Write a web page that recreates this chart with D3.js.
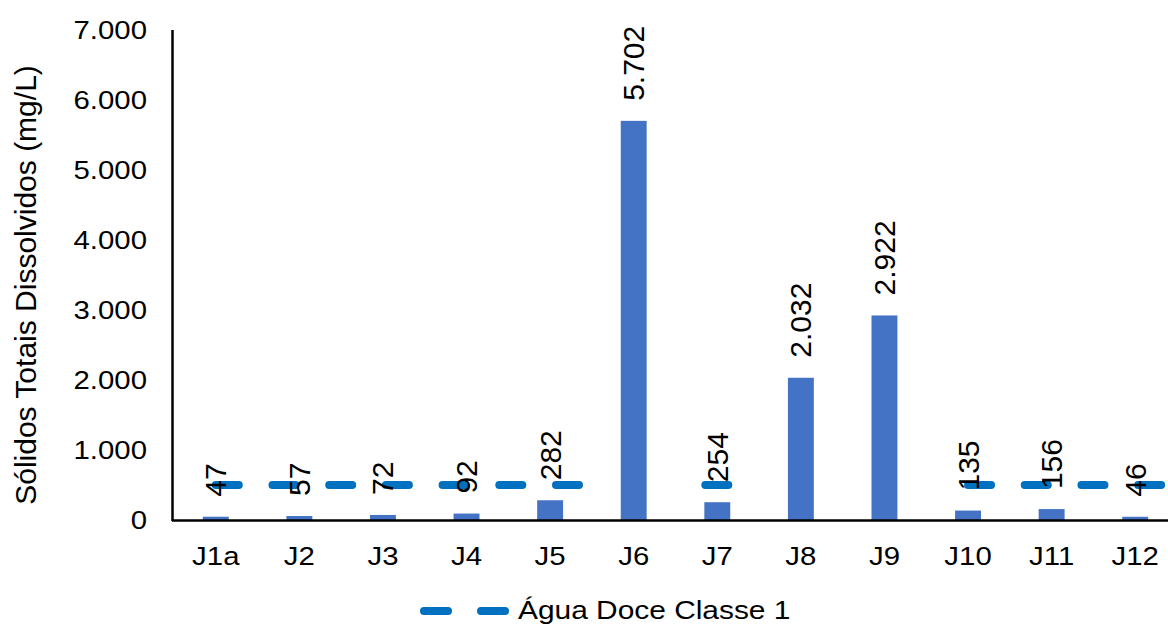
<!DOCTYPE html>
<html>
<head>
<meta charset="utf-8">
<script src="https://cdn.jsdelivr.net/npm/d3@7"></script>
<style>
  body { margin: 0; background: #fff; }
  text { font-family: "Liberation Sans", Arial, sans-serif; fill: #000; }
</style>
</head>
<body>
<div id="chart"></div>
<script>
// data
var categories = ["J1a", "J2", "J3", "J4", "J5", "J6", "J7", "J8", "J9", "J10", "J11", "J12"];
var values = [47, 57, 72, 92, 282, 5702, 254, 2032, 2922, 135, 156, 46];
// limit series: blank where the bar goes above it
var limitSeries = [500, 500, 500, 500, 500, null, 500, null, null, 500, 500, 500];
var limitName = "Água Doce Classe 1";
var yTicks = [0, 1000, 2000, 3000, 4000, 5000, 6000, 7000];
var yTitle = "Sólidos Totais Dissolvidos (mg/L)";

var W = 1168, H = 625;
var barColor = "#4472C4", lineColor = "#0070C0";
var stretch = 1.13; // horizontal text in the picture is a bit wider than Arial

var br = d3.formatLocale({decimal: ",", thousands: ".", grouping: [3], currency: ["R$", ""]});
var fmt = br.format(",d");

var svg = d3.select("#chart").append("svg")
    .attr("width", W)
    .attr("height", H);

var x = d3.scaleBand().domain(categories).range([174, 1177]).padding(0);
var y = d3.scaleLinear().domain([0, 7000]).range([520, 30]);
var barW = x.bandwidth() * 0.31;
function cx(c) { return x(c) + x.bandwidth() / 2; }

var data = categories.map(function(c, i) { return {cat: c, value: values[i]}; });

// bars
svg.selectAll("rect.bar")
  .data(data)
  .enter().append("rect")
    .attr("class", "bar")
    .attr("x", function(d) { return cx(d.cat) - barW / 2; })
    .attr("y", function(d) { return y(d.value); })
    .attr("width", barW)
    .attr("height", function(d) { return y(0) - y(d.value); })
    .attr("fill", barColor);

// limit line: split into runs where the series is not blank
var runs = [], cur = null;
limitSeries.forEach(function(v, i) {
  if (v == null) { cur = null; return; }
  if (!cur) { cur = {first: i, last: i, value: v}; runs.push(cur); }
  else cur.last = i;
});

svg.selectAll("line.limit")
  .data(runs)
  .enter().append("line")
    .attr("class", "limit")
    .attr("x1", function(r) { return cx(categories[r.first]) - (r.first == r.last ? 12 : 0); })
    .attr("x2", function(r) { return cx(categories[r.last]) + (r.first == r.last ? 12 : x.bandwidth() * 0.4); })
    .attr("y1", function(r) { return y(r.value); })
    .attr("y2", function(r) { return y(r.value); })
    .attr("stroke", lineColor)
    .attr("stroke-width", 8)
    .attr("stroke-linecap", "round")
    .attr("stroke-dasharray", "23,33.7");

// axes lines
svg.append("line")
    .attr("x1", 172.5).attr("x2", 172.5)
    .attr("y1", y(7000)).attr("y2", y(0) + 1)
    .attr("stroke", "#000").attr("stroke-width", 2.5);
svg.append("line")
    .attr("x1", 172).attr("x2", W)
    .attr("y1", y(0) + 0.5).attr("y2", y(0) + 0.5)
    .attr("stroke", "#000").attr("stroke-width", 2.5);

// y tick labels
svg.selectAll("g.ytick")
  .data(yTicks)
  .enter().append("g")
    .attr("class", "ytick")
    .attr("transform", function(d) { return "translate(147," + y(d) + ") scale(" + stretch + ",1)"; })
  .append("text")
    .attr("text-anchor", "end")
    .attr("dy", "0.35em")
    .style("font-size", "26px")
    .text(function(d) { return fmt(d); });

// category labels
svg.selectAll("g.xtick")
  .data(categories)
  .enter().append("g")
    .attr("class", "xtick")
    .attr("transform", function(d) { return "translate(" + cx(d) + ",565) scale(" + stretch + ",1)"; })
  .append("text")
    .attr("text-anchor", "middle")
    .style("font-size", "26px")
    .text(function(d) { return d; });

// data labels, rotated
svg.selectAll("g.dlabel")
  .data(data)
  .enter().append("g")
    .attr("class", "dlabel")
    .attr("transform", function(d) {
      return "translate(" + cx(d.cat) + "," + (y(d.value) - 20) + ") rotate(-90)";
    })
  .append("text")
    .attr("text-anchor", "start")
    .attr("dy", "0.35em")
    .style("font-size", "30px")
    .text(function(d) { return fmt(d.value); });

// y axis title
svg.append("text")
    .attr("transform", "translate(36," + ((y(7000) + y(0)) / 2 + 10) + ") rotate(-90)")
    .attr("text-anchor", "middle")
    .style("font-size", "30px")
    .text(yTitle);

// legend
var leg = svg.append("g").attr("transform", "translate(0,611)");
leg.append("line")
    .attr("x1", 424).attr("x2", 505)
    .attr("y1", 0).attr("y2", 0)
    .attr("stroke", lineColor)
    .attr("stroke-width", 8)
    .attr("stroke-linecap", "round")
    .attr("stroke-dasharray", "24,33");
leg.append("g")
    .attr("transform", "translate(518,8) scale(1.15,1)")
  .append("text")
    .style("font-size", "26px")
    .text(limitName);
</script>
</body>
</html>
